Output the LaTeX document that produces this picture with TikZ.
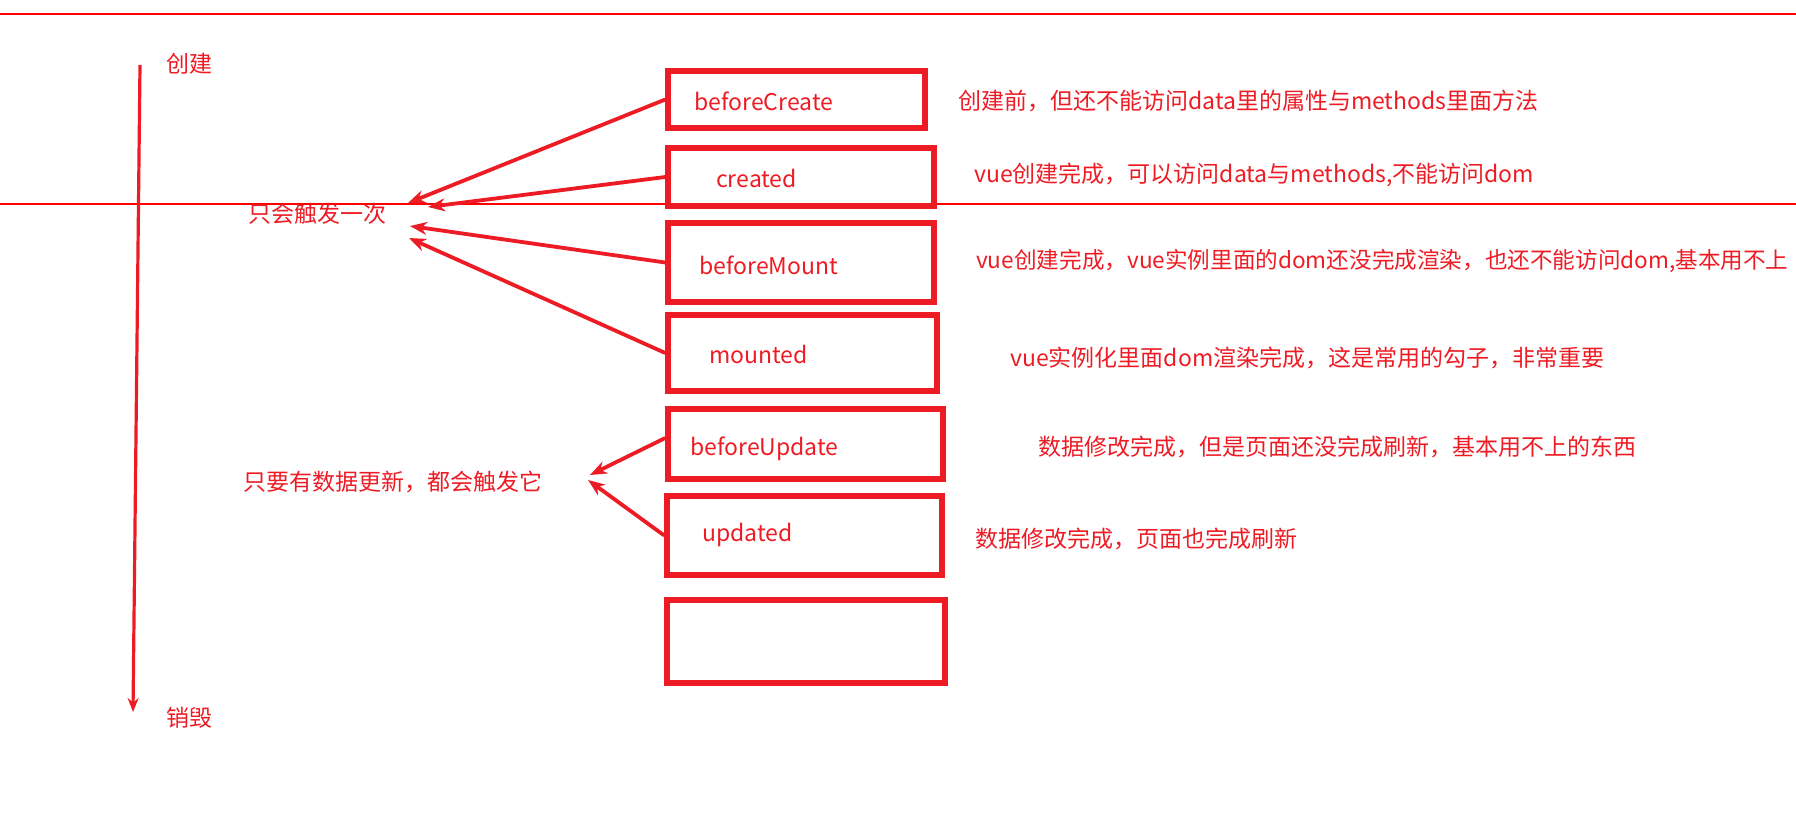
\documentclass[tikz,border=0pt]{standalone}
\usepackage{fontspec}
\setmainfont{Noto Sans CJK SC}
\usetikzlibrary{positioning,arrows.meta}
\definecolor{hookred}{HTML}{ED1C24}
\definecolor{rulered}{HTML}{FF0000}

\begin{document}
\begin{tikzpicture}[x=1pt,y=-1pt,
    hook/.style={draw=hookred,line width=5.5pt,inner sep=0pt},
    txt/.style={text=hookred,font=\fontsize{23}{27}\selectfont,inner sep=0pt},
    link/.style={draw=hookred,line width=3.8pt,-{Stealth[length=17pt,width=13pt]}}]
    \useasboundingbox (0,0) rectangle (1796,838);
    % thin guide lines
    \draw[rulered,line width=1.2pt] (0,14) -- (1796,14);
    \draw[rulered,line width=1.2pt] (0,204) -- (1796,204);
    % timeline
    \coordinate (life start) at (140,65);
    \coordinate (life end) at (133,712);
    \draw[link,line width=3.2pt,-{Stealth[length=14pt,width=11pt]}] (life start) -- (life end);
    \node[txt] (create) at (189,64) {创建};
    \node[txt] (destroy) at (189,718) {销毁};
    % hook boxes
    \node[hook,minimum width=257,minimum height=57] (bc) at (796.5,99.5) {};
    \node[hook,minimum width=266,minimum height=58] (cr) at (801,177) {};
    \node[hook,minimum width=266,minimum height=79] (bm) at (801,262.5) {};
    \node[hook,minimum width=269,minimum height=76] (mo) at (802.5,353) {};
    \node[hook,minimum width=275,minimum height=70] (bu) at (805.5,444) {};
    \node[hook,minimum width=275,minimum height=79] (up) at (804.5,535.5) {};
    \node[hook,minimum width=278,minimum height=83] (de) at (806,641.5) {};
    \node[txt,anchor=west] at (694,101) {beforeCreate};
    \node[txt,anchor=west] at (716,178) {created};
    \node[txt,anchor=west] at (699,265) {beforeMount};
    \node[txt,anchor=west] at (709,354) {mounted};
    \node[txt,anchor=west] at (690,449) {beforeUpdate};
    \node[txt,anchor=west] at (702,535) {updated};
    % descriptions
    \node[txt,anchor=west] (bc text) at (958,101) {创建前，但还不能访问data里的属性与methods里面方法};
    \node[txt,anchor=west] (cr text) at (974,175) {vue创建完成，可以访问data与methods,不能访问dom};
    \node[txt,anchor=west,font=\fontsize{22.6}{27}\selectfont] (bm text) at (976,261) {vue创建完成，vue实例里面的dom还没完成渲染，也还不能访问dom,基本用不上};
    \node[txt,anchor=west] (mo text) at (1010,358) {vue实例化里面dom渲染完成，这是常用的勾子，非常重要};
    \node[txt,anchor=west] (bu text) at (1038,447) {数据修改完成，但是页面还没完成刷新，基本用不上的东西};
    \node[txt,anchor=west] (up text) at (975,539) {数据修改完成，页面也完成刷新};
    % groups
    \node[txt] (once) at (317,214) {只会触发一次};
    \node[txt] (every) at (393,482) {只要有数据更新，都会触发它};
    \coordinate (once a) at (408,203);
    \coordinate (once b) at (428,207);
    \coordinate (once c) at (410,226);
    \coordinate (once d) at (409,238);
    \coordinate (every a) at (590,475);
    \coordinate (every b) at (588,480);
    \draw[link] (bc.west) -- (once a);
    \draw[link] (cr.west) -- (once b);
    \draw[link] (bm.west) -- (once c);
    \draw[link] (mo.west) -- (once d);
    \draw[link] ([yshift=6]bu.west) -- (every a);
    \draw[link] (up.west) -- (every b);
\end{tikzpicture}
\end{document}
